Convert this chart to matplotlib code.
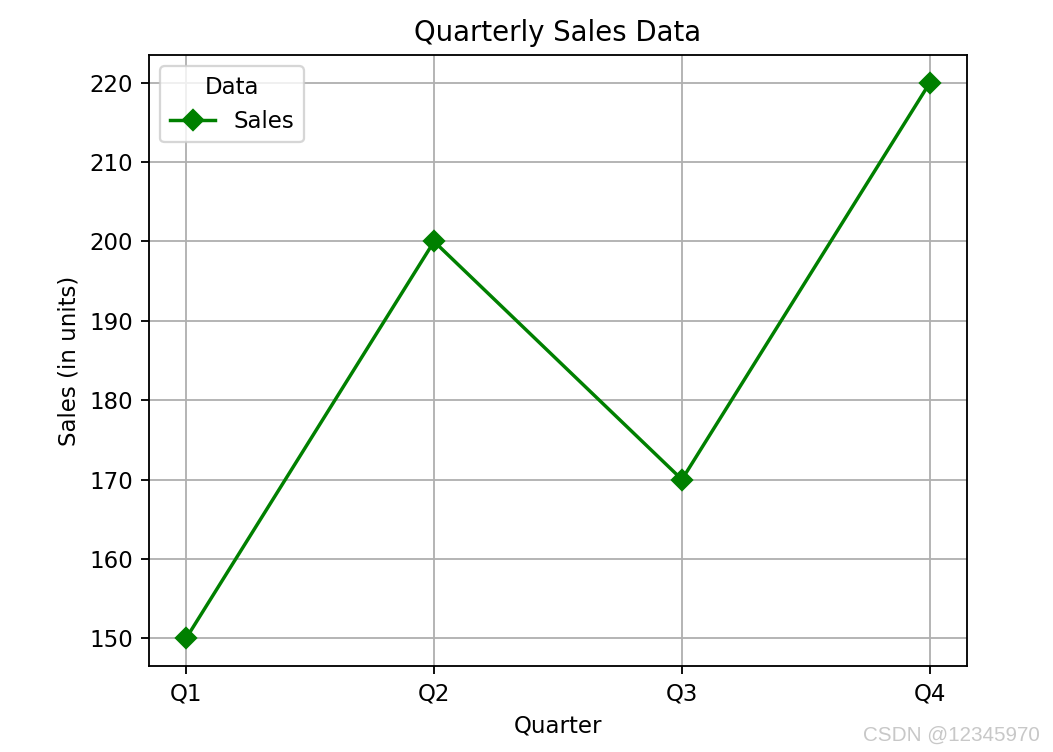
import matplotlib
matplotlib.use("Agg")
import matplotlib.pyplot as plt

quarters = ["Q1", "Q2", "Q3", "Q4"]
sales = [150, 200, 170, 220]

dpi = 165
fig = plt.figure(figsize=(1053 / dpi, 752 / dpi), dpi=dpi)
W, H = 1053, 752
ax = fig.add_axes([149 / W, (H - 666) / H, (967 - 149) / W, (666 - 55) / H])
ax.plot(quarters, sales, color="green", marker="D", label="Sales")
ax.set_title("Quarterly Sales Data")
ax.set_xlabel("Quarter")
ax.set_ylabel("Sales (in units)")
ax.grid(True)
ax.legend(title="Data", loc="upper left")
fig.text(1040 / W, (H - 735) / H, "CSDN @12345970", ha="right", va="center",
         color="#c8c8c8", fontsize=9, family="Liberation Sans")
fig.savefig("out.png", dpi=dpi)
